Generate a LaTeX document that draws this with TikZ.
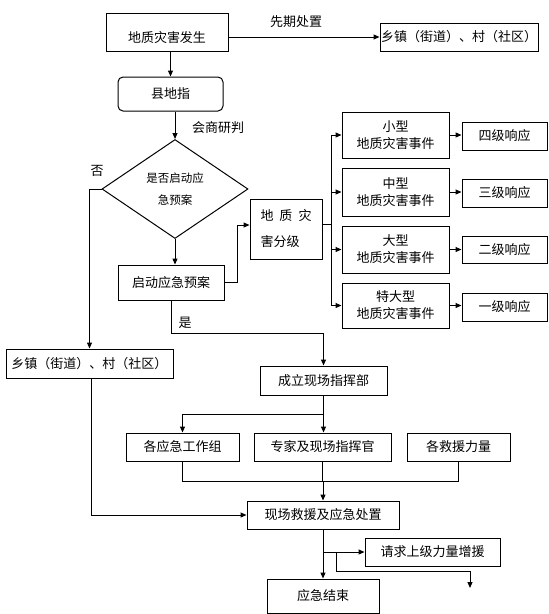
\documentclass[tikz,border=0pt]{standalone}
\usepackage{fontspec}
\setmainfont{Noto Sans CJK SC}
\usetikzlibrary{arrows.meta,shapes.geometric}
\begin{document}
\begin{tikzpicture}[x=1pt,y=-1pt,
  box/.style={draw, line width=1pt, rectangle, inner sep=0pt, align=center, font=\fontsize{13}{17}\selectfont},
  arr/.style={line width=1pt, -{Triangle[length=6pt,width=5pt]}},
  ln/.style={line width=1pt},
  lbl/.style={font=\fontsize{13}{17}\selectfont, inner sep=0pt}]
\fill[white] (0,0) rectangle (549,614);
\useasboundingbox (0,0) rectangle (549,614);

% nodes
\node[box, minimum width=122pt, minimum height=38pt, label={[lbl,yshift=-6pt]center:地质灾害发生}] (occur) at (167,32) {};
\node[box, minimum width=158pt, minimum height=28pt] (town1) at (459,37) {乡镇（街道）、村（社区）};
\node[box, rounded corners=5pt, minimum width=105pt, minimum height=34pt] (county) at (170.5,94) {县地指};
\node[draw, line width=1pt, diamond, minimum width=146pt, minimum height=99pt, inner sep=0pt, align=center,
      font=\fontsize{11.5}{22}\selectfont] (dec) at (175,189) {是否启动应\\急预案};
\node[box, minimum width=106pt, minimum height=35pt] (plan) at (171,282.5) {启动应急预案};
\node[box, minimum width=72pt, minimum height=60pt, align=left, font=\fontsize{13}{26}\selectfont] (grading) at (286,229) {地\hspace{6pt}质\hspace{6pt}灾\\害分级};

\node[box, minimum width=107pt, minimum height=46pt] (t1) at (395.5,135) {小型\\地质灾害事件};
\node[box, minimum width=107pt, minimum height=48pt] (t2) at (395.5,192) {中型\\地质灾害事件};
\node[box, minimum width=107pt, minimum height=47pt] (t3) at (395.5,249.5) {大型\\地质灾害事件};
\node[box, minimum width=107pt, minimum height=45pt] (t4) at (395.5,305.5) {特大型\\地质灾害事件};

\node[box, minimum width=85pt, minimum height=28pt] (r1) at (504.5,136) {四级响应};
\node[box, minimum width=85pt, minimum height=28pt] (r2) at (504.5,193) {三级响应};
\node[box, minimum width=85pt, minimum height=27pt] (r3) at (504.5,249.5) {二级响应};
\node[box, minimum width=85pt, minimum height=28pt] (r4) at (504.5,307) {一级响应};

\node[box, minimum width=167pt, minimum height=29pt] (town2) at (89.5,363.5) {乡镇（街道）、村（社区）};
\node[box, minimum width=127pt, minimum height=29pt] (command) at (323.5,380.5) {成立现场指挥部};
\node[box, minimum width=113pt, minimum height=28pt] (group) at (182.5,447) {各应急工作组};
\node[box, minimum width=137pt, minimum height=28pt] (expert) at (322.5,447) {专家及现场指挥官};
\node[box, minimum width=103pt, minimum height=28pt] (force) at (458.5,447) {各救援力量};
\node[box, minimum width=152pt, minimum height=28pt] (rescue) at (323,515) {现场救援及应急处置};
\node[box, minimum width=135pt, minimum height=28pt] (request) at (432.5,552) {请求上级力量增援};
\node[box, minimum width=112pt, minimum height=34pt] (end) at (323,596) {应急结束};

% labels
\node[lbl] (l1) at (296,22) {先期处置};
\node[lbl] (l2) at (218,128) {会商研判};
\node[lbl] (l3) at (97,171) {否};
\node[lbl] (l4) at (185,323) {是};

% coordinates
\coordinate (bus) at (331,224);
\coordinate (cj) at (323.5,414);
\coordinate (bj) at (323,481);
\coordinate (rj) at (323,552);
\coordinate (rk) at (336,552);
\coordinate (rc) at (470,571);
\coordinate (free) at (470,588);

% connectors
\draw[arr] (occur.east |- town1.west) -- (town1.west);
\draw[arr] (county.north |- occur.south) -- (county.north);
\draw[arr] (dec.north |- county.south) -- (dec.north);
\draw[arr] (dec.south) -- (dec.south |- plan.north);
\draw[arr] (dec.west) -| (town2.north);
\draw[arr] (plan.east) -- ++(13,0) |- ([yshift=4pt]grading.west);
\draw[arr] (plan.south) -- ++(0,33) -| (command.north);

\draw[ln] ([yshift=5pt]grading.east) -- (bus);
\draw[arr] (bus) |- (t1.west);
\draw[arr] (bus) |- (t2.west);
\draw[arr] (bus) |- (t3.west);
\draw[arr] (bus) |- (t4.west);
\draw[arr] (t1.east) -- (t1.east -| r1.west);
\draw[arr] (t2.east) -- (t2.east -| r2.west);
\draw[arr] (t3.east) -- (t3.east -| r3.west);
\draw[arr] (t4.east) -- (t4.east -| r4.west);

\draw[arr] ([xshift=1.5pt]town2.south) |- (rescue.west);
\draw[ln] (command.south) -- (cj);
\draw[arr] (cj) -| (group.north);
\draw[arr] (cj) -- (cj |- expert.north);

\draw[ln] (group.south) |- (force.south |- bj) -- (force.south);
\draw[ln] (expert.south) -- (expert.south |- bj);
\draw[arr] (bj) -- (rescue.north);

\draw[arr] (rescue.south) -- (end.north);
\draw[arr] (rj) -- (request.west);
\draw[ln] (rk) |- (rc);
\draw[arr] (rc) -- (free);
\end{tikzpicture}
\end{document}
